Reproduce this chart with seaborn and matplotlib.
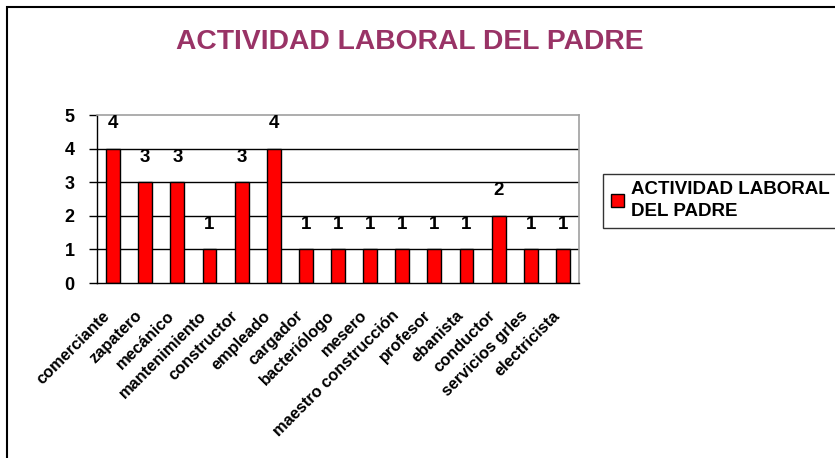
import matplotlib
matplotlib.use("Agg")
import matplotlib.pyplot as plt
import matplotlib.transforms as mtransforms
import seaborn as sns
import pandas as pd
from matplotlib.patches import Rectangle

ocupaciones = ["comerciante", "zapatero", "mecánico", "mantenimiento", "constructor",
               "empleado", "cargador", "bacteriólogo", "mesero", "maestro construcción",
               "profesor", "ebanista", "conductor", "servicios grles", "electricista"]
cantidad = [4, 3, 3, 1, 3, 4, 1, 1, 1, 1, 1, 1, 2, 1, 1]
serie = "ACTIVIDAD LABORAL DEL PADRE"
y_ticks = [0, 1, 2, 3, 4, 5]

sns.set_theme(style="white")
plt.rcParams["font.family"] = ["Liberation Sans", "DejaVu Sans"]
plt.rcParams["font.weight"] = "bold"
plt.rcParams["text.color"] = "black"
plt.rcParams["xtick.color"] = "black"
plt.rcParams["ytick.color"] = "black"
plt.rcParams["axes.labelcolor"] = "black"

df = pd.DataFrame({"ocupacion": ocupaciones, "cantidad": cantidad})

fig = plt.figure(figsize=(8.35, 4.58), dpi=100)
fig.patch.set_facecolor("white")

# outer frame of the chart object (runs off the right and bottom edges)
fig.patches.append(Rectangle((7 / 835, -0.1), 1.2, 1 - 7 / 458 + 0.1,
                             transform=fig.transFigure, fill=False,
                             edgecolor="black", linewidth=1.5))

ax = fig.add_axes([97 / 835, 1 - 283 / 458, (579 - 97) / 835, (283 - 115) / 458])
sns.barplot(data=df, x="ocupacion", y="cantidad", color="#FF0000",
            edgecolor="black", linewidth=1, width=0.43, saturation=1, ax=ax,
            legend=False)

ax.set_ylim(0, 5)
ax.set_xlim(-0.5, len(ocupaciones) - 0.5)
ax.set_yticks(y_ticks)
ax.set_yticklabels([str(t) for t in y_ticks], fontsize=13, fontweight="bold",
                   color="black")
ax.set_xticks(range(len(ocupaciones)))
ax.set_xticklabels(ocupaciones, rotation=45, ha="right", rotation_mode="anchor",
                   fontsize=11.8, fontweight="bold", color="black")
ax.set_xticks([i - 0.5 for i in range(len(ocupaciones) + 1)], minor=True)
ax.tick_params(axis="x", which="major", length=0, pad=18)
ax.tick_params(axis="x", which="minor", length=5, width=1, color="black", direction="out")
ax.tick_params(axis="y", length=6, width=1, color="black", direction="out", pad=10,
               left=True)
ax.set_xlabel("")
ax.set_ylabel("")

# nudge the slanted category names to the left of their bars
shift = mtransforms.ScaledTranslation(-11 / 100, 0, fig.dpi_scale_trans)
for lbl in ax.get_xticklabels():
    lbl.set_transform(lbl.get_transform() + shift)

for y in y_ticks[1:-1]:
    ax.axhline(y, color="black", linewidth=1, zorder=0)

for side in ["top", "right"]:
    ax.spines[side].set_color("#A0A0A0")
    ax.spines[side].set_linewidth(1.2)
for side in ["left", "bottom"]:
    ax.spines[side].set_color("black")
    ax.spines[side].set_linewidth(1)

ax.bar_label(ax.containers[0], labels=[str(v) for v in cantidad], padding=12,
             fontsize=13.5, fontweight="bold", color="black")

fig.text(410 / 835, 1 - 42 / 458, serie, ha="center", va="center",
         fontsize=20.3, fontweight="bold", color="#993366")

handles = [Rectangle((0, 0), 1, 1, facecolor="#FF0000", edgecolor="black", linewidth=1)]
leg = fig.legend(handles, ["ACTIVIDAD LABORAL\nDEL PADRE"], loc="upper left",
                 bbox_to_anchor=(603 / 835, 1 - 174 / 458), frameon=True,
                 fancybox=False, edgecolor="black",
                 handlelength=0.7, handleheight=0.7, handletextpad=0.4,
                 borderpad=0.4, borderaxespad=0,
                 prop={"weight": "bold", "size": 13.5})
leg.get_frame().set_linewidth(1)
for t in leg.get_texts():
    t.set_linespacing(1.35)
    t.set_color("black")

fig.savefig("out.png", dpi=100, facecolor="white")
